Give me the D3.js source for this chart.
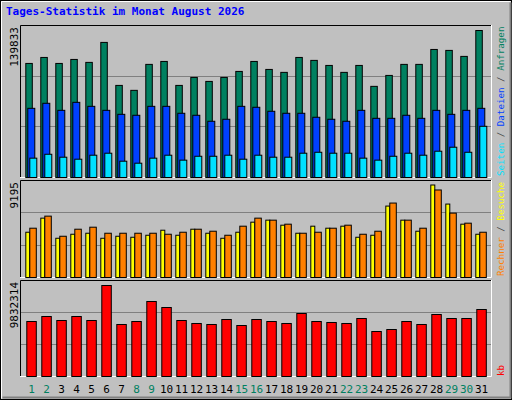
<!DOCTYPE html>
<html><head><meta charset="utf-8">
<script src="https://cdn.jsdelivr.net/npm/d3@7"></script>
<style>body{margin:0;background:#fff}svg{display:block}</style>
</head><body><svg id="c"></svg>
<script>
const days = d3.range(1, 32);
const weekend = [1, 2, 8, 9, 15, 16, 22, 23, 29, 30];
const hits = [108500,114200,108500,112300,109500,128500,87600,82900,107600,110400,87600,95200,91400,95200,100900,110400,102800,100000,114200,111400,106600,100000,106600,86700,97100,107600,107600,121800,120900,115200,139833];
const files = [65800,70600,63900,71500,67700,63900,60100,59200,67700,67700,61100,59200,53500,55400,67700,66800,63000,61100,61100,57300,55400,53500,63900,56300,56300,59200,56300,63900,60100,63900,65800];
const pages = [18400,22100,19300,17400,21200,23100,15500,13600,18400,21200,16500,20200,20200,21200,17400,21200,19300,19300,23100,24000,23100,23100,18400,16500,20200,23100,21200,25000,28800,24000,48700];
const visits = [4500,5900,3900,4300,4400,3900,4100,4000,4200,4700,4200,4800,4400,3900,4500,5500,5700,5200,4400,5100,4900,5100,4000,4200,7100,5700,4600,9195,7300,5300,4300];
const sites = [4900,6100,4100,4800,5000,4400,4400,4400,4400,4300,4500,4800,4600,4200,5100,5900,5700,5300,4400,4500,4900,5200,4300,4600,7400,5700,4900,8700,6400,5400,4500];
const kbytes = [5943000,6483000,6051000,6483000,6051000,9832314,5619000,5943000,8104000,7455000,6051000,5727000,5619000,6159000,5510000,6159000,5943000,5727000,6807000,5943000,5835000,5727000,6267000,4862000,5078000,5943000,5619000,6699000,6267000,6267000,7239000];

const W = 512, H = 400;
const svg = d3.select("#c").attr("width", W).attr("height", H);
const mono = "DejaVu Sans Mono";

// frame with bevel
svg.append("rect").attr("width", W).attr("height", H).attr("fill", "#c0c0c0");
svg.append("rect").attr("x", 0.5).attr("y", 0.5).attr("width", W - 1).attr("height", H - 1).attr("fill", "none").attr("stroke", "#000");
svg.append("path").attr("d", "M1.5,398.5V1.5H510.5").attr("fill", "none").attr("stroke", "#fff");
svg.append("path").attr("d", "M2.5,397.5H510.5V2.5").attr("fill", "none").attr("stroke", "#808080").attr("stroke-width", 2);

svg.append("text").attr("x", 6).attr("y", 15).attr("font-family", mono).attr("font-weight", "bold")
  .attr("font-size", 11).attr("fill", "#0000ff").text("Tages-Statistik im Monat August 2026");

const x = d3.scaleBand().domain(days).range([21, 486]);

function panel(top, bottom, max, topBar) {
  svg.append("rect").attr("x", 20).attr("y", top).attr("width", 471).attr("height", bottom - top).attr("fill", "#c0c0c0");
  svg.append("path").attr("d", `M20.5,${bottom}V${top + 0.5}H491`).attr("fill", "none").attr("stroke", "#000");
  svg.append("path").attr("d", `M20,${bottom + 0.5}H491.5V${top}`).attr("fill", "none").attr("stroke", "#fff");
  const y = d3.scaleLinear().domain([0, max]).range([bottom, topBar]);
  const g = (bottom - top) / 3;
  svg.selectAll(null).data([1, 2]).enter().append("line")
    .attr("x1", 21).attr("x2", 491).attr("y1", d => Math.round(top + d * g) + 0.5).attr("y2", d => Math.round(top + d * g) + 0.5)
    .attr("stroke", "#808080");
  return y;
}

function bars(y, vals, dx, w, color) {
  svg.selectAll(null).data(vals).enter().append("rect")
    .attr("x", (d, i) => x(days[i]) + dx + 0.5).attr("y", d => y(d) + 0.5)
    .attr("width", w).attr("height", d => y(0) - y(d))
    .attr("fill", color).attr("stroke", "#000");
}

const y1 = panel(25, 177, 139833, 30);
bars(y1, hits, 4.3, 6.5, "#008060");
bars(y1, files, 6.3, 7, "#0040ff");
bars(y1, pages, 8.3, 7, "#00e0ff");

const y2 = panel(180, 277, 9195, 184.5);
bars(y2, visits, 4.3, 4, "#ffff00");
bars(y2, sites, 8.3, 6.5, "#ff8000");

const y3 = panel(280, 376, 9832314, 285);
bars(y3, kbytes, 5.3, 9.5, "#ff0000");

function vlabel(xp, yp, txt) {
  svg.append("text").attr("transform", `translate(${xp},${yp}) rotate(-90)`).attr("text-anchor", "end")
    .attr("font-family", mono).attr("font-size", 11).attr("fill", "#000").text(txt);
}
vlabel(18, 27, d3.max(hits));
vlabel(18, 182, d3.max(visits));
vlabel(18, 282, d3.max(kbytes));

function rlabel(yp, parts) {
  const t = svg.append("text").attr("transform", `translate(504,${yp}) rotate(-90)`)
    .attr("font-family", mono).attr("font-size", 9.2);
  parts.forEach(p => t.append("tspan").attr("fill", p[1]).text(p[0]));
}
rlabel(176, [["Seiten", "#00e0ff"], [" / ", "#404040"], ["Dateien", "#0040ff"], [" / ", "#404040"], ["Anfragen", "#008060"]]);
rlabel(276, [["Rechner", "#ff8000"], [" / ", "#404040"], ["Besuche", "#ffff00"]]);
rlabel(376, [["kb", "#ff0000"]]);

svg.selectAll(null).data(days).enter().append("text")
  .attr("x", d => x(d) + 10.5).attr("y", 393).attr("text-anchor", "middle")
  .attr("font-family", mono).attr("font-size", 11)
  .attr("fill", d => weekend.includes(d) ? "#008060" : "#000").text(d => d);
</script></body></html>
